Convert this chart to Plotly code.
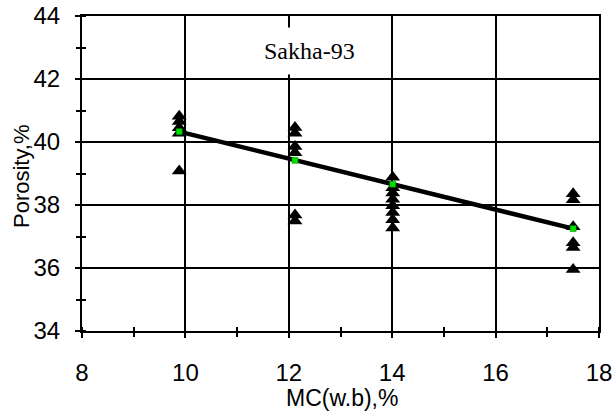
import plotly.graph_objects as go

# measured porosity points (MC, porosity)
mc_points = [9.88, 9.88, 9.88, 9.88, 9.88,
             12.12, 12.12, 12.12, 12.12, 12.12, 12.12,
             14.01, 14.01, 14.01, 14.01, 14.01, 14.01, 14.01, 14.01,
             17.5, 17.5, 17.5, 17.5, 17.5, 17.5]
porosity_points = [40.82, 40.65, 40.45, 40.28, 39.08,
                   40.46, 40.28, 39.86, 39.66, 37.68, 37.49,
                   38.88, 38.55, 38.38, 38.18, 37.98, 37.76, 37.53, 37.27,
                   38.36, 38.17, 37.31, 36.8, 36.65, 35.95]

# fitted values (trend line)
mc_fit = [9.88, 12.12, 14.01, 17.5]
porosity_fit = [40.33, 39.42, 38.66, 37.25]

x_ticks = [8, 10, 12, 14, 16, 18]
y_ticks = [34, 36, 38, 40, 42, 44]

fig = go.Figure()
fig.add_trace(go.Scatter(
    x=mc_points, y=porosity_points, mode="markers",
    marker=dict(symbol="triangle-up", size=13, color="black"),
    showlegend=False, hoverinfo="skip"))
fig.add_trace(go.Scatter(
    x=mc_fit, y=porosity_fit, mode="lines",
    line=dict(color="black", width=4.5),
    showlegend=False, hoverinfo="skip"))
fig.add_trace(go.Scatter(
    x=mc_fit, y=porosity_fit, mode="markers",
    marker=dict(symbol="square", size=6, color="#00e000",
                line=dict(color="#008800", width=0.5)),
    showlegend=False, hoverinfo="skip"))
# empty trace to hold the overlay axes (inner halves of minor ticks)
fig.add_trace(go.Scatter(x=[None], y=[None], xaxis="x2", yaxis="y2",
                         showlegend=False, hoverinfo="skip"))

tickfont = dict(family="Liberation Sans, Arial", size=24, color="black")
fig.update_layout(
    width=613, height=418,
    margin=dict(l=82, r=14, t=16, b=87, autoexpand=False),
    paper_bgcolor="white", plot_bgcolor="white",
    xaxis=dict(
        range=[8, 18], tickvals=x_ticks, ticktext=[str(v) for v in x_ticks],
        ticks="outside", ticklen=5, tickwidth=1.5, tickcolor="black",
        showgrid=True, gridcolor="black", gridwidth=1.5,
        showline=True, linecolor="black", linewidth=2, mirror=True,
        zeroline=False, tickfont=tickfont, ticklabelstandoff=14,
        automargin=False,
        minor=dict(dtick=1, tick0=9, ticks="outside", ticklen=4,
                   tickwidth=1.5, tickcolor="black", showgrid=False),
    ),
    yaxis=dict(
        range=[34, 44], tickvals=y_ticks, ticktext=[str(v) for v in y_ticks],
        ticks="outside", ticklen=5, tickwidth=1.5, tickcolor="black",
        showgrid=True, gridcolor="black", gridwidth=1.5,
        showline=True, linecolor="black", linewidth=2, mirror=True,
        zeroline=False, tickfont=tickfont, ticklabelstandoff=10,
        automargin=False,
        minor=dict(dtick=1, tick0=35, ticks="outside", ticklen=4,
                   tickwidth=1.5, tickcolor="black", showgrid=False),
    ),
    xaxis2=dict(overlaying="x", matches="x", range=[8, 18], showticklabels=False,
                showgrid=False, zeroline=False, showline=False, side="bottom",
                anchor="y2", ticks="", tickvals=[], automargin=False,
                minor=dict(dtick=1, tick0=9, ticks="inside", ticklen=4,
                           tickwidth=1.5, tickcolor="black", showgrid=False)),
    yaxis2=dict(overlaying="y", matches="y", range=[34, 44], showticklabels=False,
                showgrid=False, zeroline=False, showline=False, side="left",
                anchor="x2", ticks="", tickvals=[], automargin=False,
                minor=dict(dtick=1, tick0=35, ticks="inside", ticklen=4,
                           tickwidth=1.5, tickcolor="black", showgrid=False)),
    annotations=[
        dict(x=12.4, y=42.9, xref="x", yref="y", text="Sakha-93", showarrow=False,
             font=dict(family="Liberation Serif, Times New Roman", size=24, color="black"),
             bgcolor="white", borderpad=10),
        dict(x=0.5, y=0, xref="paper", yref="paper", text="MC(w.b),%",
             showarrow=False,
             font=dict(family="Liberation Sans, Arial", size=23, color="black"),
             yanchor="middle", xanchor="center"),
        dict(x=0, y=0, xref="paper", yref="paper", text="Porosity,%",
             showarrow=False,
             font=dict(family="Liberation Sans, Arial", size=22, color="black"),
             textangle=-90),
    ],
)

# place axis-title annotations in pixel terms
plot_w = 613 - 82 - 14
plot_h = 418 - 16 - 87
ann = list(fig.layout.annotations)
ann[1].update(x=(342 - 82) / plot_w, y=(331 - 398) / plot_h, yanchor="middle")
ann[2].update(x=(21 - 82) / plot_w, y=(331 - 176) / plot_h,
              xanchor="center", yanchor="middle")
fig.layout.annotations = ann

fig.write_html("out.html", config={"displayModeBar": False},
               post_script="document.body.style.margin='0px';")
